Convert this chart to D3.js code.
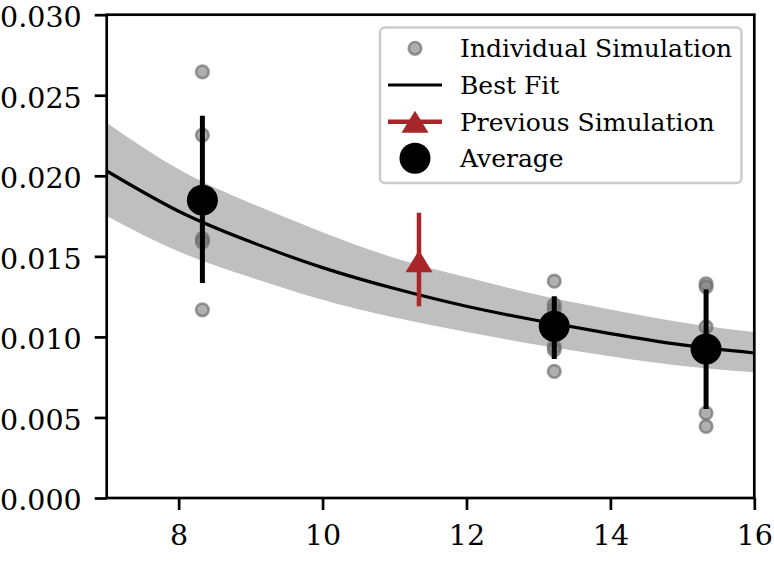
<!DOCTYPE html>
<html>
<head>
<meta charset="utf-8">
<script src="https://cdn.jsdelivr.net/npm/d3@7"></script>
<style>
  html, body { margin: 0; padding: 0; background: #fff; }
  svg { display: block; }
  text { font-family: "DejaVu Serif", serif; fill: #000; }
</style>
</head>
<body>
<svg id="chart" width="774" height="570"></svg>
<script>
// ---- Data ----
const xTicks = [8, 10, 12, 14, 16];
const yTicks = [0.000, 0.005, 0.010, 0.015, 0.020, 0.025, 0.030];

// individual simulations: [x, y]
const individualX = [8.33, 8.33, 8.33, 8.33, 8.33,
                     13.22, 13.22, 13.22, 13.22, 13.22, 13.22,
                     15.33, 15.33, 15.33, 15.33, 15.33];
const individualY = [0.02645, 0.02252, 0.0161, 0.0159, 0.01168,
                     0.01346, 0.0120, 0.0117, 0.0094, 0.0092, 0.00786,
                     0.0133, 0.0131, 0.01062, 0.00527, 0.00444];

// averages with error bars
const avgX    = [8.33, 13.22, 15.33];
const avgY    = [0.01849, 0.01066, 0.00925];
const avgLow  = [0.01335, 0.00863, 0.00552];
const avgHigh = [0.02372, 0.01252, 0.01294];

// previous simulation
const prevX = [11.34];
const prevY = [0.0147];
const prevLow = [0.0119];
const prevHigh = [0.0177];

// best fit curve and its band, read at integer x
const fitX     = [7, 8, 9, 10, 11, 12, 13, 14, 15, 16];
const fitY     = [0.0203, 0.0178, 0.0159, 0.0143, 0.0130, 0.0119, 0.0110, 0.0102, 0.0095, 0.0090];
const fitUpper = [0.0233, 0.0204, 0.0183, 0.0165, 0.0149, 0.0137, 0.0126, 0.0117, 0.0109, 0.0103];
const fitLower = [0.0175, 0.0153, 0.0137, 0.0123, 0.0112, 0.0103, 0.0095, 0.0088, 0.0082, 0.0078];

const legendLabels = ["Individual Simulation", "Best Fit", "Previous Simulation", "Average"];

// ---- Layout ----
const L = 106.7, R = 754.3, T = 14.7, B = 498;
const svg = d3.select("#chart");
const x = d3.scaleLinear().domain([7, 16]).range([L, R]);
const y = d3.scaleLinear().domain([0, 0.030]).range([B, T]);
const red = "#a8262a";

const plot = svg.append("g");
const clipId = "clipPlot";
svg.append("defs").append("clipPath").attr("id", clipId)
  .append("rect").attr("x", L).attr("y", T).attr("width", R - L).attr("height", B - T);
const clipped = plot.append("g").attr("clip-path", `url(#${clipId})`);

// band
const bandData = fitX.map((d, i) => ({x: d, lo: fitLower[i], hi: fitUpper[i]}));
clipped.append("path")
  .datum(bandData)
  .attr("fill", "#bfbfbf")
  .attr("d", d3.area().curve(d3.curveNatural)
    .x(d => x(d.x)).y0(d => y(d.lo)).y1(d => y(d.hi)));

// fit line
const fitData = fitX.map((d, i) => ({x: d, y: fitY[i]}));
clipped.append("path")
  .datum(fitData)
  .attr("fill", "none")
  .attr("stroke", "#000")
  .attr("stroke-width", 3.2)
  .attr("d", d3.line().curve(d3.curveNatural).x(d => x(d.x)).y(d => y(d.y)));

// individual points
const indData = individualX.map((d, i) => ({x: d, y: individualY[i]}));
clipped.selectAll("circle.ind").data(indData).enter().append("circle")
  .attr("class", "ind")
  .attr("cx", d => x(d.x)).attr("cy", d => y(d.y)).attr("r", 6.3)
  .attr("fill", "#7a7a7a").attr("fill-opacity", 0.6)
  .attr("stroke", "#6a6a6a").attr("stroke-opacity", 0.65).attr("stroke-width", 2.6);

// previous simulation error bar + triangle
prevX.forEach((px, i) => {
  clipped.append("line")
    .attr("x1", x(px)).attr("x2", x(px))
    .attr("y1", y(prevLow[i])).attr("y2", y(prevHigh[i]))
    .attr("stroke", red).attr("stroke-width", 4.5);
  const cx = x(px), cy = y(prevY[i]);
  clipped.append("path")
    .attr("d", `M${cx},${cy - 11} L${cx + 13.5},${cy + 11} L${cx - 13.5},${cy + 11} Z`)
    .attr("fill", red);
});

// averages error bars + markers
const avgData = avgX.map((d, i) => ({x: d, y: avgY[i], lo: avgLow[i], hi: avgHigh[i]}));
clipped.selectAll("line.avgerr").data(avgData).enter().append("line")
  .attr("class", "avgerr")
  .attr("x1", d => x(d.x)).attr("x2", d => x(d.x))
  .attr("y1", d => y(d.lo)).attr("y2", d => y(d.hi))
  .attr("stroke", "#000").attr("stroke-width", 5);
clipped.selectAll("circle.avg").data(avgData).enter().append("circle")
  .attr("class", "avg")
  .attr("cx", d => x(d.x)).attr("cy", d => y(d.y)).attr("r", 15.5)
  .attr("fill", "#000");

// axes
const xAxis = d3.axisBottom(x).tickValues(xTicks).tickSize(12).tickPadding(15).tickFormat(d3.format("d"));
const yAxis = d3.axisLeft(y).tickValues(yTicks).tickSize(12).tickPadding(13).tickFormat(d3.format(".3f"));

const gx = svg.append("g").attr("transform", `translate(0,${B})`).call(xAxis);
const gy = svg.append("g").attr("transform", `translate(${L},0)`).call(yAxis);
[gx, gy].forEach(g => {
  g.select(".domain").remove();
  g.selectAll(".tick line").attr("stroke", "#000").attr("stroke-width", 2.7);
  g.selectAll(".tick text").attr("font-family", "DejaVu Serif").attr("font-size", 28.5).attr("fill", "#000");
});
gy.selectAll(".tick text").attr("dy", "0.42em");

// spines
svg.append("rect").attr("x", L).attr("y", T).attr("width", R - L).attr("height", B - T)
  .attr("fill", "none").attr("stroke", "#000").attr("stroke-width", 2.7);

// legend
const lg = svg.append("g");
lg.append("rect").attr("x", 380).attr("y", 27.5).attr("width", 361.5).attr("height", 155.5)
  .attr("rx", 5).attr("fill", "#fff").attr("fill-opacity", 0.8)
  .attr("stroke", "#cccccc").attr("stroke-width", 2.5);
const rowY = [48.3, 85, 121.7, 158.3];
const mx = 415;
lg.append("circle").attr("cx", mx).attr("cy", rowY[0]).attr("r", 6.3)
  .attr("fill", "#7a7a7a").attr("fill-opacity", 0.6)
  .attr("stroke", "#6a6a6a").attr("stroke-opacity", 0.65).attr("stroke-width", 2.6);
lg.append("line").attr("x1", 388).attr("x2", 442).attr("y1", rowY[1]).attr("y2", rowY[1])
  .attr("stroke", "#000").attr("stroke-width", 3.2);
lg.append("line").attr("x1", 388).attr("x2", 442).attr("y1", rowY[2]).attr("y2", rowY[2])
  .attr("stroke", red).attr("stroke-width", 4.5);
lg.append("path")
  .attr("d", `M${mx},${rowY[2] - 11} L${mx + 13.5},${rowY[2] + 11} L${mx - 13.5},${rowY[2] + 11} Z`)
  .attr("fill", red);
lg.append("circle").attr("cx", mx).attr("cy", rowY[3]).attr("r", 15.5).attr("fill", "#000");
lg.selectAll("text.leg").data(legendLabels).enter().append("text")
  .attr("class", "leg")
  .attr("x", 460).attr("y", (d, i) => rowY[i]).attr("dy", "0.36em")
  .attr("font-size", 25)
  .text(d => d);
</script>
</body>
</html>
